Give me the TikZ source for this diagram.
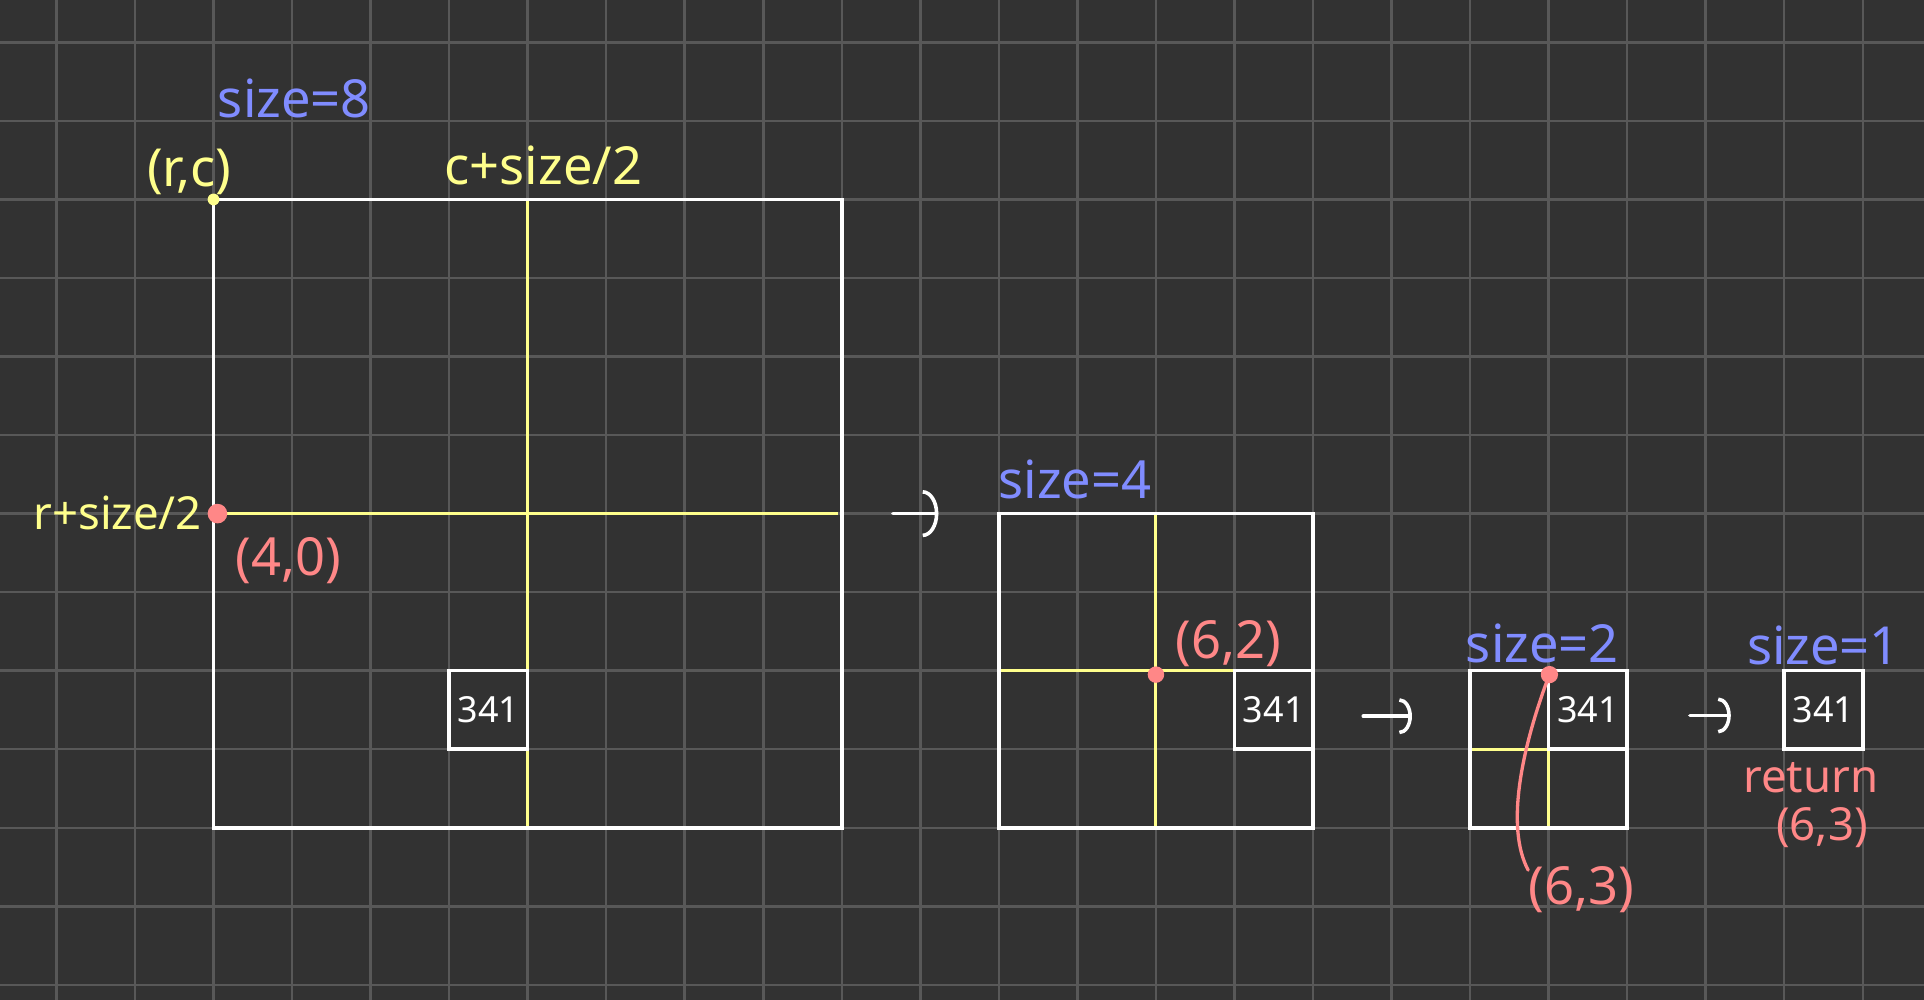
\documentclass[tikz,border=0pt]{standalone}
\usepackage{fontspec}
\setmainfont{Noto Sans}
\usetikzlibrary{arrows.meta, positioning}

\definecolor{boardbg}{RGB}{50,50,50}
\definecolor{gridgray}{RGB}{88,88,88}
\definecolor{penyellow}{RGB}{255,255,140}
\definecolor{penblue}{RGB}{128,140,255}
\definecolor{penpink}{RGB}{255,135,135}

\newcommand{\handfont}{\fontsize{19}{22}\selectfont}
\newcommand{\smallhand}{\fontsize{16.5}{19}\selectfont}
\newcommand{\cellfont}{\fontsize{13}{15}\selectfont}

\begin{document}
\begin{tikzpicture}[
        sizelabel/.style={text=penblue, font=\handfont, inner sep=1pt},
        ylabel/.style={text=penyellow, font=\handfont, inner sep=1pt},
        plabel/.style={text=penpink, font=\handfont, inner sep=1pt},
        sqframe/.style={draw=white, line width=1.3pt},
        halfline/.style={draw=penyellow, line width=1.1pt},
        cellbox/.style={draw=white, line width=1.3pt, minimum size=1cm, inner sep=0pt, text=white, font=\cellfont},
        hitdot/.style={circle, fill=#1, inner sep=0pt},
        nextarrow/.style={white, line width=1.3pt, line cap=round, -{Arc Barb[#1]}},
        leader/.style={penpink, line width=1.2pt, line cap=round}
    ]
        % board and grid
        \fill[boardbg] (-2.719,2.540) rectangle (21.78,-10.19);
        \useasboundingbox (-2.719,2.540) rectangle (21.78,-10.19);
        \draw[gridgray, line width=0.9pt] (-2.719,-10.19) grid (21.78,2.540);

        % size = 8
        \draw[halfline] (4,0) -- (4,-8);
        \draw[halfline] (0,-4) -- (7.95,-4);
        \draw[sqframe] (0,0) rectangle (8,-8);
        \node[cellbox] (c8) at (3.5,-6.5) {341};
        \node[hitdot=penyellow, minimum size=0.15cm] (corner) at (0,0) {};
        \node[hitdot=penpink, minimum size=0.25cm] (hit8) at (0.05,-4) {};

        \node[sizelabel] (sz8) at (1.03,1.29) {size=8};
        \node[ylabel] (rc) at (-0.31,0.35) {(r,c)};
        \node[ylabel] (cmid) at (4.2,0.43) {c+size/2};
        \node[ylabel, font=\smallhand] (rmid) at (-1.22,-3.99) {r+size/2};
        \node[plabel] (p40) at (0.95,-4.6) {(4,0)};

        % size = 4
        \draw[halfline] (12,-4) -- (12,-8);
        \draw[halfline] (10,-6) -- (13,-6);
        \draw[sqframe] (10,-4) rectangle (14,-8);
        \node[cellbox] (c4) at (13.5,-6.5) {341};
        \node[hitdot=penpink, minimum size=0.21cm] (hit4) at (12,-6.05) {};

        \node[sizelabel] (sz4) at (10.97,-3.57) {size=4};
        \node[plabel] (p62) at (12.92,-5.65) {(6,2)};

        % size = 2
        \draw[halfline] (17,-7) -- (17,-8);
        \draw[halfline] (16,-7) -- (17,-7);
        \draw[sqframe] (16,-6) rectangle (18,-8);
        \node[cellbox] (c2) at (17.5,-6.5) {341};
        \node[hitdot=penpink, minimum size=0.22cm] (hit2) at (17.01,-6.05) {};

        \node[sizelabel] (sz2) at (16.92,-5.65) {size=2};
        \node[plabel] (p63) at (17.42,-8.79) {(6,3)};
        \coordinate (p63end) at (16.74,-8.54);
        \draw[leader] (hit2.center) .. controls (16.65,-7.0) and (16.45,-8.0) .. (p63end);

        % size = 1
        \node[cellbox] (c1) at (20.5,-6.5) {341};
        \node[sizelabel] (sz1) at (20.5,-5.68) {size=1};
        \node[plabel, font=\smallhand] (ret) at (20.34,-7.36) {return};
        \node[plabel, font=\smallhand] (ret63) at (20.48,-8.0) {(6,3)};

        % recursion steps
        \coordinate (a1s) at (8.65,-4);
        \coordinate (a1e) at (9.23,-4);
        \coordinate (a2s) at (14.64,-6.58);
        \coordinate (a2e) at (15.26,-6.58);
        \coordinate (a3s) at (18.8,-6.57);
        \coordinate (a3e) at (19.32,-6.57);
        \draw[nextarrow={length=2mm, width=6mm}] (a1s) -- (a1e);
        \draw[nextarrow={length=1.6mm, width=4.6mm}] (a2s) -- (a2e);
        \draw[nextarrow={length=1.6mm, width=4.6mm}] (a3s) -- (a3e);
    \end{tikzpicture}
\end{document}
